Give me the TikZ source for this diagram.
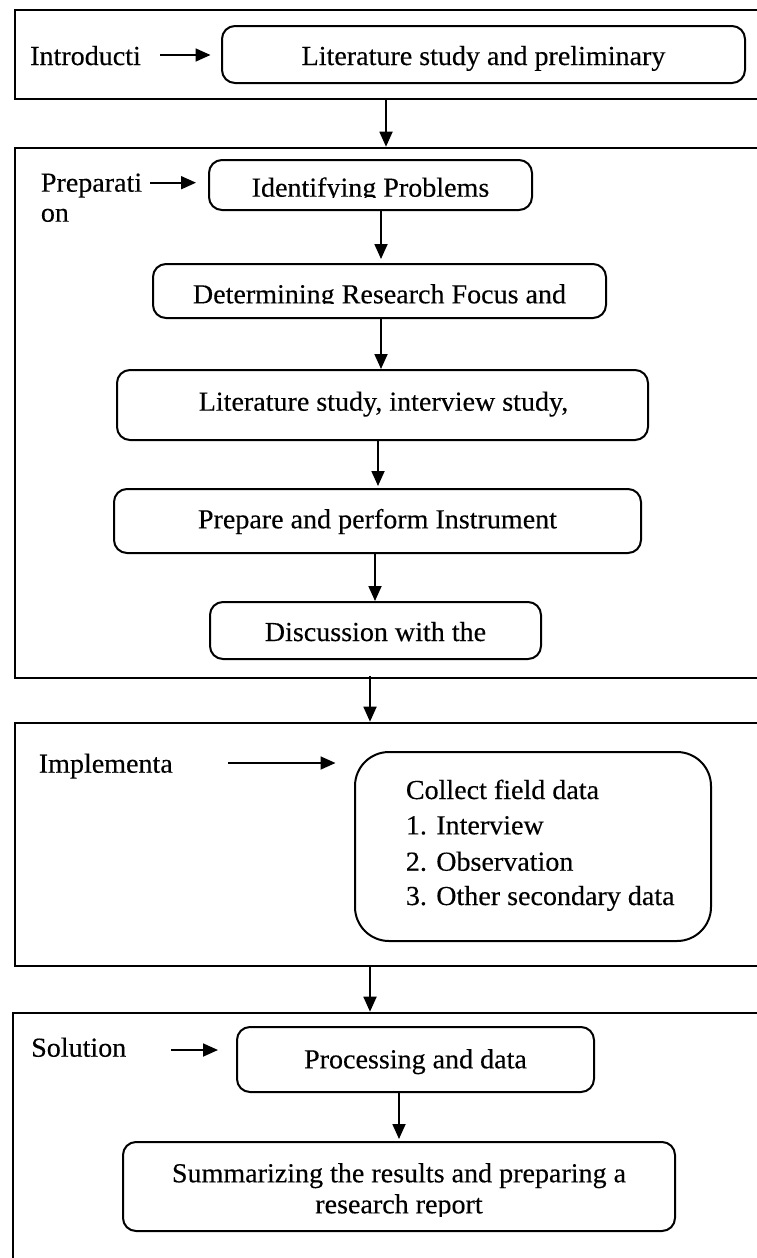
\documentclass[tikz,border=0pt]{standalone}
\usepackage{fontspec}
\setmainfont{Liberation Serif}[FakeStretch=1.02,FakeBold=0.3]
\usetikzlibrary{arrows.meta}
\begin{document}
\begin{tikzpicture}[x=1pt,y=-1pt,
  frame/.style={draw, line width=2.6pt, inner sep=0pt},
  rbox/.style={draw, line width=2pt, rounded corners=13pt, inner sep=0pt},
  txt/.style={inner sep=0pt, font=\fontsize{27.5}{32}\selectfont},
  arr/.style={line width=1.8pt, -{Triangle[length=15pt,width=13pt]}}]
\useasboundingbox (0,0) rectangle (756,1258);
% frames
\node[frame, minimum width=755pt, minimum height=89pt] (F1) at (392.5,54.5) {};
\node[frame, minimum width=755pt, minimum height=530pt] (F2) at (392.5,413) {};
\node[frame, minimum width=755pt, minimum height=243pt] (F3) at (392.5,844.5) {};
\node[frame, minimum width=757pt, minimum height=267pt] (F4) at (391.5,1146.5) {};
% boxes
\node[rbox, minimum width=523pt, minimum height=57pt] (lit) at (483.5,54.5) {};
\node[rbox, minimum width=323pt, minimum height=50pt] (ident) at (370.5,185) {};
\node[rbox, minimum width=453pt, minimum height=54pt] (determ) at (379.5,291) {};
\node[rbox, minimum width=531pt, minimum height=70pt] (lit3) at (382.5,405) {};
\node[rbox, minimum width=527pt, minimum height=64pt] (prep) at (377.5,521) {};
\node[rbox, minimum width=331pt, minimum height=57pt] (disc) at (375.5,630.5) {};
\node[rbox, rounded corners=34pt, minimum width=356pt, minimum height=189pt] (coll) at (533,846.5) {};
\node[rbox, minimum width=357pt, minimum height=65pt] (proc) at (415.5,1059.5) {};
\node[rbox, minimum width=552pt, minimum height=89pt] (summ) at (399,1186.5) {};
% texts in boxes
\node[txt, anchor=base] (litT) at (483.5,65) {Literature study and preliminary};
\begin{scope}
  \clip (209,150) rectangle (532,197.5);
  \node[txt, anchor=base] (identT) at (370.5,196.7) {Identifying Problems};
\end{scope}
\begin{scope}
  \clip (153,264) rectangle (606,303.8);
  \node[txt, anchor=base] (determT) at (379.5,303.3) {Determining Research Focus and};
\end{scope}
\node[txt, anchor=base] (lit3T) at (383.5,410.7) {Literature study, interview study,};
\node[txt, anchor=base] (prepT) at (377.5,528.3) {Prepare and perform Instrument};
\node[txt, anchor=base] (discT) at (375.5,641) {Discussion with the};
\node[txt, anchor=base west] (c0) at (405.7,799) {Collect field data};
\node[txt, anchor=base west] (c1) at (405.7,834.3) {1. Interview};
\node[txt, anchor=base west] (c2) at (405.7,870.7) {2. Observation};
\node[txt, anchor=base west] (c3) at (405.7,905) {3. Other secondary data};
\node[txt, anchor=base] (procT) at (415.5,1068.3) {Processing and data};
\node[txt, anchor=base] (summT1) at (399,1182.3) {Summarizing the results and preparing a};
\begin{scope}
  \clip (123,1190) rectangle (675,1216.5);
  \node[txt, anchor=base] (summT2) at (399,1213.3) {research report};
\end{scope}
% stage labels
\node[txt, anchor=base west] (intro) at (30,65) {Introducti};
\node[txt, anchor=base west] (prepa) at (40.7,191.7) {Preparati};
\node[txt, anchor=base west] (prepb) at (40.7,221.7) {on};
\node[txt, anchor=base west] (impl) at (38.6,772.7) {Implementa};
\node[txt, anchor=base west] (sol) at (31,1056.7) {Solution};
% horizontal arrows
\coordinate (h1) at (160,55);
\coordinate (h2) at (150,182.7);
\coordinate (h3) at (228,763);
\coordinate (h4) at (171,1050);
\draw[arr, shorten >=10.5pt] (h1) -- (h1 -| lit.west);
\draw[arr, shorten >=12pt] (h2) -- (h2 -| ident.west);
\draw[arr, shorten >=18.5pt] (h3) -- (h3 -| coll.west);
\draw[arr, shorten >=18pt] (h4) -- (h4 -| proc.west);
% vertical arrows
\coordinate (v1) at (386,0);
\coordinate (v2) at (381,0);
\coordinate (v3) at (378,0);
\coordinate (v4) at (375,0);
\coordinate (v5) at (370,0);
\coordinate (v6) at (399,0);
\draw[arr] (v1 |- F1.south) -- (v1 |- F2.north);
\draw[arr, shorten >=4pt] (v2 |- ident.south) -- (v2 |- determ.north);
\draw[arr] (v2 |- determ.south) -- (v2 |- lit3.north);
\draw[arr, shorten >=2pt] (v3 |- lit3.south) -- (v3 |- prep.north);
\draw[arr] (v4 |- prep.south) -- (v4 |- disc.north);
\draw[arr, shorten <=-3pt] (v5 |- F2.south) -- (v5 |- F3.north);
\draw[arr] (v5 |- F3.south) -- (v5 |- F4.north);
\draw[arr, shorten >=2pt] (v6 |- proc.south) -- (v6 |- summ.north);
\end{tikzpicture}
\end{document}
